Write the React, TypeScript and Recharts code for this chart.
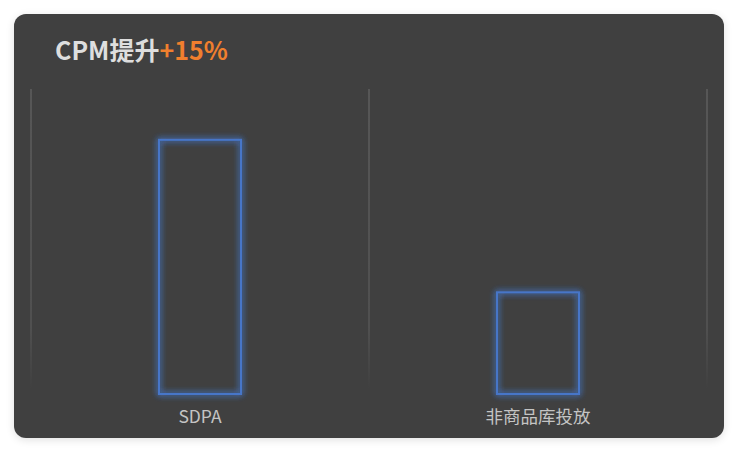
import React from "react"
import { BarChart, Bar, XAxis, YAxis, CartesianGrid } from "recharts"

// chart values
const categories = ["SDPA", "非商品库投放"]
const cpmValues = [100, 40]
const yDomain: [number, number] = [0, 120]

const titleText = "CPM提升"
const titleLift = "+15%"

const chartData = categories.map((name, i) => ({ name, value: cpmValues[i] }))

const FONT = '"Noto Sans CJK SC", "Open Sans", sans-serif'

// outlined bar with soft blue glow
const GlowBar = (props: any) => {
  const { x, y, width, height } = props
  if (!height) return null
  return (
    <rect
      x={x}
      y={y}
      width={width}
      height={height}
      fill="none"
      stroke="#4676c8"
      strokeWidth={2}
      filter="url(#barGlow)"
    />
  )
}

export default function App() {
  return (
    <div
      style={{
        position: "fixed",
        left: 0,
        top: 0,
        width: 738,
        height: 453,
        background: "#ffffff",
      }}
    >
      <div
        style={{
          position: "absolute",
          left: 14,
          top: 14,
          width: 710,
          height: 424,
          borderRadius: 12,
          background: "#404040",
          boxShadow: "0 2px 8px rgba(0,0,0,0.12)",
          overflow: "hidden",
        }}
      >
        <div
          style={{
            position: "absolute",
            left: 41,
            top: 19,
            fontFamily: FONT,
            fontWeight: 700,
            fontSize: 25,
            lineHeight: "33px",
            color: "#dedede",
            zIndex: 1,
          }}
        >
          {titleText}
          <span style={{ color: "#f07f2e" }}>{titleLift}</span>
        </div>
        <BarChart
          width={710}
          height={424}
          data={chartData}
          margin={{ top: 75, right: 17, bottom: 0, left: 17 }}
        >
          <defs>
            <linearGradient id="gridFade" gradientUnits="userSpaceOnUse" x1="0" y1="75" x2="0" y2="375">
              <stop offset="0%" stopColor="#5e5e5e" />
              <stop offset="80%" stopColor="#555555" />
              <stop offset="100%" stopColor="#404040" />
            </linearGradient>
            <filter id="barGlow" x="-30%" y="-30%" width="160%" height="160%">
              <feGaussianBlur in="SourceGraphic" stdDeviation="3" result="blur" />
              <feMerge>
                <feMergeNode in="blur" />
                <feMergeNode in="blur" />
                <feMergeNode in="SourceGraphic" />
              </feMerge>
            </filter>
          </defs>
          <CartesianGrid
            horizontal={false}
            stroke="url(#gridFade)"
            strokeWidth={1.5}
            verticalCoordinatesGenerator={({ offset }: any) => [
              offset.left,
              offset.left + offset.width / 2,
              offset.left + offset.width,
            ]}
          />
          <XAxis
            dataKey="name"
            height={44}
            axisLine={false}
            tickLine={false}
            tickSize={0}
            tickMargin={17}
            tick={{ fill: "#c4c4c4", fontSize: 17.5, fontFamily: FONT }}
          />
          <YAxis hide domain={yDomain} />
          <Bar
            dataKey="value"
            barSize={82}
            shape={GlowBar}
            isAnimationActive={false}
          />
        </BarChart>
      </div>
    </div>
  )
}
